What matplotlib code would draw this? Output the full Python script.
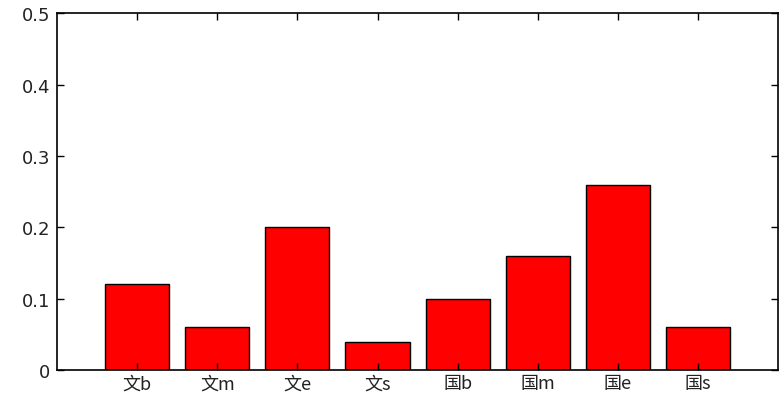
import matplotlib.pyplot as plt
import numpy as np

labels = ['文b', '文m', '文e', '文s', '国b', '国m', '国e', '国s']
values = [0.12, 0.06, 0.20, 0.04, 0.10, 0.16, 0.26, 0.06]
yticks = [0, 0.1, 0.2, 0.3, 0.4, 0.5]
ytick_labels = ['0', '0.1', '0.2', '0.3', '0.4', '0.5']

plt.rcParams['font.family'] = ['Noto Sans CJK SC', 'DejaVu Sans']

fig = plt.figure(figsize=(7.82, 4.02), dpi=100)
ax = fig.add_axes([0.073, 0.077, 0.922, 0.887])

x = np.arange(1, len(values) + 1)
ax.bar(x, values, width=0.8, color='#ff0000', edgecolor='black', linewidth=1)

ax.set_xlim(0, 9)
ax.set_ylim(0, 0.5)
ax.set_xticks(x)
ax.set_xticklabels(labels, fontsize=13)
ax.set_yticks(yticks)
ax.set_yticklabels(ytick_labels, fontsize=13, family=['DejaVu Sans'])
ax.tick_params(direction='in', length=5, width=1, top=True, right=True,
               labelcolor='#222222')
ax.tick_params(axis='y', pad=5)
ax.tick_params(axis='x', pad=3)
for s in ax.spines.values():
    s.set_linewidth(1.2)

plt.savefig('out.png')
